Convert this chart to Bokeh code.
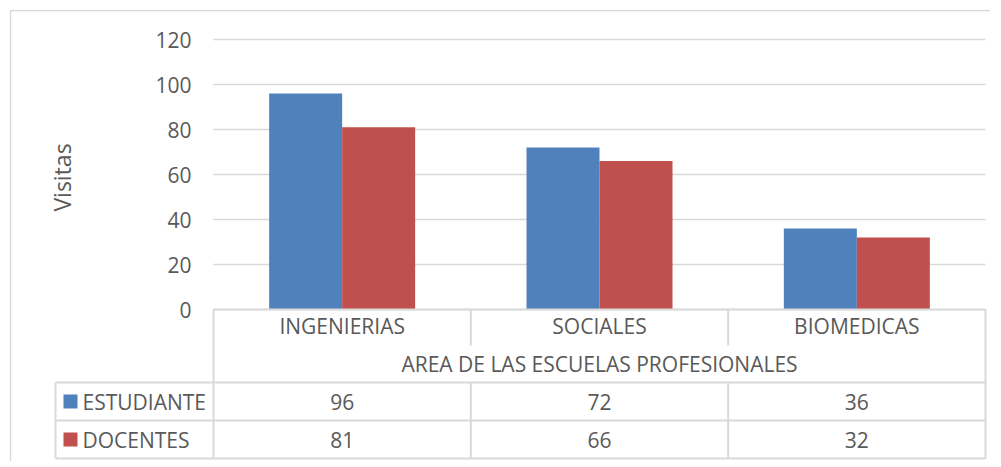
import math
from bokeh.plotting import figure
from bokeh.models import Range1d
from bokeh.core.properties import value
from bokeh.embed import file_html
from bokeh.resources import INLINE

# ---------------- data ----------------
categories = ["INGENIERIAS", "SOCIALES", "BIOMEDICAS"]
series_names = ["ESTUDIANTE", "DOCENTES"]
estudiante = [96, 72, 36]
docentes = [81, 66, 32]
y_ticks = [0, 20, 40, 60, 80, 100, 120]
y_title = "Visitas"
x_title = "AREA DE LAS ESCUELAS PROFESIONALES"

# ---------------- styles / layout (canvas pixels) ----------------
BLUE = "#4F81BD"
RED = "#C0504D"
GRID = "#d9d9d9"
TXT = "#595959"
FONT = value("Open Sans")
FS = "21px"

W, H = 990, 461
FL, FT = 9, 9              # frame left/top
FR, FB = W, H              # frame right/bottom
BORDER = 10                # outer chart border position
PLOT_L, PLOT_R = 213, 985  # category band extent
Y0, YTOP = 309, 39         # pixel of value 0 and value 120
ROW1, ROW2, ROW3 = 382, 420, 458
HDR_SPLIT = 345
LEG_L = 55

ux = (PLOT_R - PLOT_L) / len(categories)
uy = (Y0 - YTOP) / (y_ticks[-1] - y_ticks[0])


def X(px):
    return (px - PLOT_L) / ux


def Y(py):
    return (Y0 - py) / uy


p = figure(width=W, height=H, output_backend="svg", toolbar_location=None,
           x_range=Range1d(X(FL), X(FR)), y_range=Range1d(Y(FB), Y(FT)),
           min_border_left=FL, min_border_top=FT, min_border_right=0, min_border_bottom=0)
p.xaxis.visible = False
p.yaxis.visible = False
p.xgrid.visible = False
p.ygrid.visible = False
p.outline_line_color = None
p.background_fill_color = "white"
p.border_fill_color = "white"

# outer chart border (top and left; right/bottom lie outside the picture)
p.segment(x0=[X(BORDER), X(BORDER)], x1=[X(FR + 20), X(BORDER)],
          y0=[Y(BORDER), Y(BORDER)], y1=[Y(BORDER), Y(FB + 20)],
          line_color=GRID, line_width=1.5)

n = len(categories)
centers = [i + 0.5 for i in range(n)]

# gridlines
p.segment(x0=[X(PLOT_L)] * len(y_ticks), x1=[X(PLOT_R)] * len(y_ticks),
          y0=y_ticks, y1=y_ticks, line_color=GRID, line_width=1.5)

# bars
bw = 73 / ux
p.vbar(x=[c - bw / 2 for c in centers], width=bw, top=estudiante, bottom=0,
       fill_color=BLUE, line_color=None)
p.vbar(x=[c + bw / 2 for c in centers], width=bw, top=docentes, bottom=0,
       fill_color=RED, line_color=None)

# y tick labels
p.text(x=[X(191)] * len(y_ticks), y=y_ticks, text=[str(t) for t in y_ticks],
       text_align="right", text_baseline="middle", text_font=FONT,
       text_font_size=FS, text_color=TXT)

# y title
p.text(x=[X(61)], y=[Y(177)], text=[y_title], angle=math.pi / 2,
       text_align="center", text_baseline="middle", text_font=FONT,
       text_font_size="23px", text_color=TXT)

# ---------------- data table ----------------
xs0, xs1, ys0, ys1 = [], [], [], []
bounds = [X(PLOT_L)] + [i + 1.0 for i in range(n - 1)] + [X(PLOT_R)]
for py, left in [(Y0, PLOT_L), (ROW1, LEG_L), (ROW2, LEG_L), (ROW3, LEG_L)]:
    xs0.append(X(left)); xs1.append(X(PLOT_R)); ys0.append(Y(py)); ys1.append(Y(py))
for b in (bounds[0], bounds[-1]):
    xs0.append(b); xs1.append(b); ys0.append(Y(Y0)); ys1.append(Y(ROW3))
for b in bounds[1:-1]:
    xs0.append(b); xs1.append(b); ys0.append(Y(Y0)); ys1.append(Y(HDR_SPLIT))
    xs0.append(b); xs1.append(b); ys0.append(Y(ROW1)); ys1.append(Y(ROW3))
xs0.append(X(LEG_L)); xs1.append(X(LEG_L)); ys0.append(Y(ROW1)); ys1.append(Y(ROW3))
p.segment(x0=xs0, x1=xs1, y0=ys0, y1=ys1, line_color=GRID, line_width=2)

# category labels
p.text(x=centers, y=[Y(325)] * n, text=categories, text_align="center",
       text_baseline="middle", text_font=FONT, text_font_size=FS, text_color=TXT)
# axis title
p.text(x=[n / 2], y=[Y(363)], text=[x_title], text_align="center",
       text_baseline="middle", text_font=FONT, text_font_size=FS, text_color=TXT)

# value rows
row_y = [Y((ROW1 + ROW2) / 2), Y((ROW2 + ROW3) / 2)]
for ry, vals in zip(row_y, [estudiante, docentes]):
    p.text(x=centers, y=[ry] * n, text=[str(v) for v in vals], text_align="center",
           text_baseline="middle", text_font=FONT, text_font_size=FS, text_color=TXT)

# legend keys
sq_w = 14 / ux
sq_h = 14 / uy
p.rect(x=[X(70)] * 2, y=row_y, width=sq_w, height=sq_h,
       fill_color=[BLUE, RED], line_color=None)
p.text(x=[X(82)] * 2, y=row_y, text=series_names, text_align="left",
       text_baseline="middle", text_font=FONT, text_font_size=FS, text_color=TXT)

open("out.html", "w").write(file_html(p, INLINE))
